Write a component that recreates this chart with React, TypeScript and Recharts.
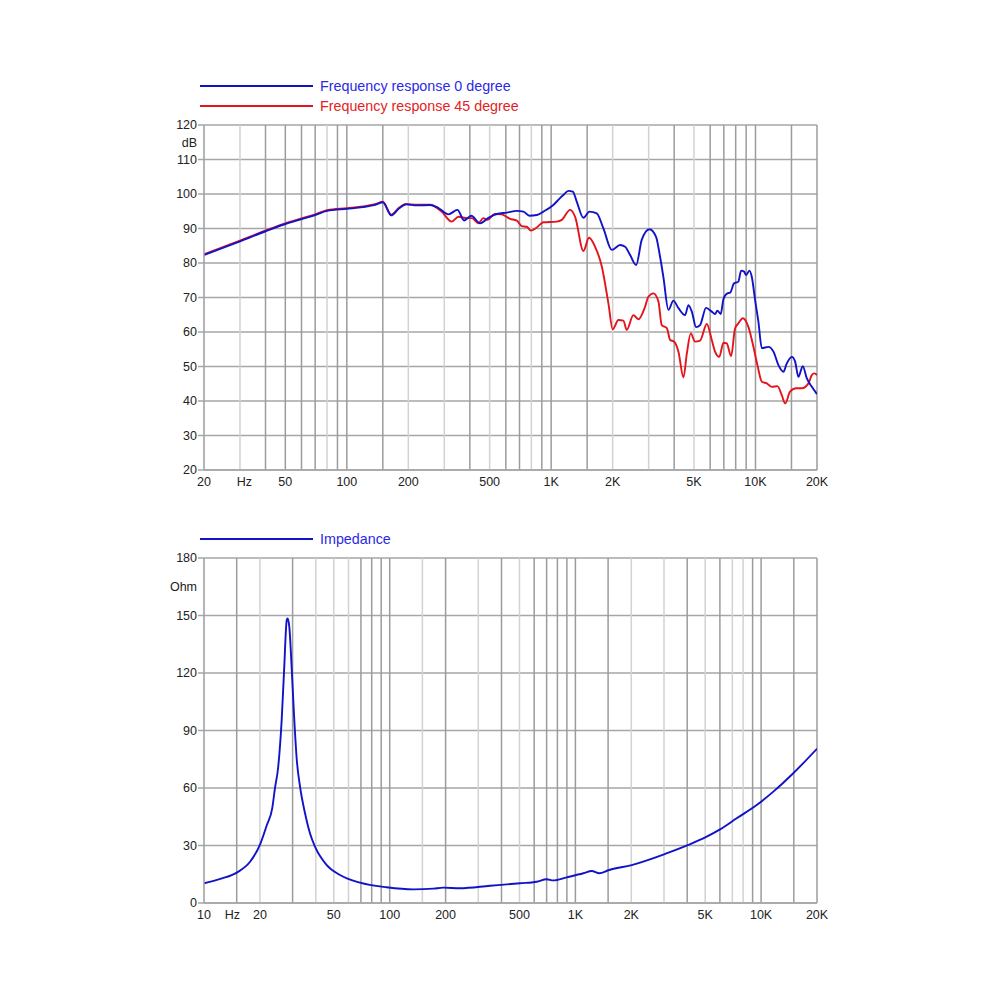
import { CartesianGrid, Line, LineChart, ReferenceLine, XAxis, YAxis } from "recharts"

// frequency response, 0 degree (Hz / dB)
const FREQ_0 = [
  20, 30, 40, 50, 60, 70, 80, 100, 120, 140, 150, 165, 180, 195, 220, 255, 280, 314, 348, 375, 406, 449,
  493, 542, 607, 679, 732, 782, 850, 916, 1025, 1105, 1148, 1214, 1276, 1334, 1438, 1539, 1672, 1800, 1981,
  2174, 2301, 2434, 2606, 2775, 3025, 3261, 3412, 3541, 3750, 3964, 4197, 4521, 4699, 4880, 5120, 5356,
  5730, 6110, 6340, 6506, 6760, 6966, 7282, 7515, 7855, 8245, 8505, 8796, 8996, 9336, 9590, 9955, 10333,
  10740, 11566, 12244, 12950, 13700, 14230, 15060, 15630, 16220, 17030, 17820, 18870, 20000,
]
const SPL_0 = [
  82.3, 86.3, 89.2, 91.3, 92.7, 93.9, 95.1, 95.7, 96.2, 97.0, 97.6, 93.8, 95.8, 97.0, 96.7, 96.8, 96.0,
  94.1, 95.4, 92.3, 93.7, 91.5, 93.1, 94.2, 94.6, 95.1, 94.9, 93.7, 93.9, 94.9, 96.8, 98.8, 99.7, 100.9,
  100.7, 97.8, 93.1, 94.9, 94.4, 90.1, 83.8, 85.2, 84.7, 82.3, 79.4, 86.7, 89.8, 87.6, 81.8, 76.0, 66.4,
  69.1, 66.9, 64.9, 67.8, 65.9, 61.4, 62.0, 67.0, 65.9, 65.2, 66.2, 65.2, 69.5, 71.2, 71.4, 74.1, 74.6,
  77.8, 77.5, 76.5, 77.8, 76.0, 69.3, 63.0, 55.3, 55.7, 54.3, 50.4, 48.5, 50.9, 52.8, 51.4, 47.0, 50.1,
  46.6, 44.1, 42.0,
]

// frequency response, 45 degree
const FREQ_45 = [
  20, 30, 40, 50, 60, 70, 80, 100, 120, 140, 150, 165, 180, 195, 220, 255, 291, 326, 352, 387, 409, 440,
  466, 487, 531, 573, 629, 679, 718, 760, 795, 850, 916, 1065, 1127, 1238, 1310, 1438, 1532, 1641, 1771,
  1906, 2001, 2133, 2256, 2344, 2525, 2672, 2880, 2991, 3165, 3350, 3477, 3682, 3822, 4000, 4197, 4440,
  4614, 4824, 5060, 5356, 5779, 6110, 6340, 6650, 6966, 7231, 7600, 7946, 8245, 8670, 9230, 9770, 10220,
  10740, 11360, 12020, 12800, 13450, 13970, 14760, 15810, 16870, 18160, 18870, 19370, 20000,
]
const SPL_45 = [
  82.5, 86.5, 89.4, 91.5, 92.9, 94.1, 95.3, 95.9, 96.4, 97.2, 97.8, 94.0, 96.0, 97.1, 96.9, 96.9, 94.9,
  92.0, 93.4, 93.0, 93.0, 91.5, 93.0, 92.5, 94.2, 94.1, 92.8, 92.3, 90.7, 90.5, 89.4, 90.3, 91.8, 92.0,
  92.5, 95.4, 93.4, 83.5, 87.3, 84.7, 78.9, 68.3, 60.8, 63.5, 63.3, 60.6, 64.9, 63.7, 67.3, 70.2, 71.2,
  68.8, 62.0, 61.1, 57.7, 57.2, 54.3, 46.8, 53.8, 59.6, 57.2, 57.5, 62.3, 57.7, 54.3, 52.8, 56.9, 56.7,
  53.0, 61.1, 62.5, 64.0, 61.5, 55.7, 50.4, 45.6, 45.1, 44.1, 44.3, 41.7, 39.3, 42.7, 43.7, 43.7, 45.1,
  47.5, 48.0, 47.5,
]

// impedance (Hz / Ohm)
const IMP_FREQ = [
  10, 12.5, 15.1, 17.7, 20, 21.8, 23.3, 24.1, 25.1, 26.2, 27, 27.9, 28.2, 28.8, 29.7, 30.5, 31.6, 32.9, 35,
  37.2, 39.6, 45.8, 54, 69.2, 96.3, 134, 172, 194.5, 239, 347, 503, 619, 700, 760, 897, 1104, 1224, 1346,
  1505, 2010, 3041, 4057, 5093, 6009, 7390, 9468, 11640, 14900, 20000,
]
const IMP_OHM = [
  10.3, 12.8, 16, 21.5, 30.3, 40.7, 49.4, 59.8, 71.1, 95.5, 121.5, 147.6, 148.5, 144.1, 121.5, 99, 74.6,
  60.7, 46.8, 36.4, 29.4, 19.8, 14.6, 10.6, 8.2, 7.1, 7.5, 8, 7.7, 9, 10.3, 11.1, 12.4, 11.8, 13.4, 15.5,
  16.7, 15.5, 17.1, 19.8, 25.6, 30.3, 34.6, 38.4, 44.2, 51.1, 58.1, 67.7, 80.5,
]

// axis ticks and grid
const SPL_TICKS = [20, 30, 40, 50, 60, 70, 80, 90, 100, 110, 120]
const OHM_TICKS = [0, 30, 60, 90, 120, 150, 180]
const HZ_TOP = 31.5
const HZ_BOTTOM = 14.2
const FR_X_TICKS = [20, HZ_TOP, 50, 100, 200, 500, 1000, 2000, 5000, 10000, 20000]
const IMP_X_TICKS = [10, HZ_BOTTOM, 20, 50, 100, 200, 500, 1000, 2000, 5000, 10000, 20000]
const FR_GRID_DARK = [40, 50, 60, 70, 90, 100, 150, 400, 600, 700, 900, 1000, 1500, 4000, 6000, 7000, 8000, 9000, 10000, 15000, 20000]
const FR_GRID_LIGHT = [30, 80, 200, 300, 500, 800, 2000, 3000, 5000]
const IMP_GRID_DARK = [15, 30, 70, 80, 90, 100, 200, 400, 600, 700, 800, 900, 1000, 1500, 4000, 6000, 9000, 10000, 15000, 20000]
const IMP_GRID_LIGHT = [20, 40, 50, 60, 150, 300, 500, 2000, 3000, 5000, 7000, 8000]

const FONT = "'Liberation Sans', Arial, Helvetica, sans-serif"
const BLUE = "#1212c8"
const BLUE_TEXT = "#2a2ae6"
const RED = "#e3141c"
const RED_TEXT = "#e52222"
const GRID_DARK = "#9c9c9c"
const GRID_LIGHT = "#d2d2d2"
const GRID_H = "#a6a6a6"
const TEXT = "#222222"

const zip = (xs: number[], ys: number[], key: string) => xs.map((f, i) => ({ f, [key]: ys[i] }))

const fr0 = zip(FREQ_0, SPL_0, "db")
const fr45 = zip(FREQ_45, SPL_45, "db")
const imp = zip(IMP_FREQ, IMP_OHM, "ohm")

const hzFormat = (hz: number) => (v: number) => (v === hz ? "Hz" : v >= 1000 ? `${v / 1000}K` : `${v}`)

const tickStyle = { fill: TEXT, fontSize: 12.5, fontFamily: FONT }

function Key({ top, color, textColor, label }: { top: number; color: string; textColor: string; label: string }) {
  return (
    <div style={{ position: "absolute", left: 200, top: top - 10, height: 20, display: "flex", alignItems: "center" }}>
      <div style={{ width: 113, height: 2, background: color }} />
      <span style={{ marginLeft: 7, color: textColor, fontSize: 14.3, fontFamily: FONT, whiteSpace: "nowrap" }}>{label}</span>
    </div>
  )
}

function gridLines(dark: number[], light: number[]) {
  return [
    ...light.map((f) => <ReferenceLine key={`l${f}`} x={f} stroke={GRID_LIGHT} strokeWidth={1.5} />),
    ...dark.map((f) => <ReferenceLine key={`d${f}`} x={f} stroke={GRID_DARK} strokeWidth={1.5} />),
  ]
}

export default function App() {
  return (
    <div style={{ position: "absolute", left: 0, top: 0, width: 1000, height: 1000, background: "#fff" }}>
      <Key top={86} color={BLUE} textColor={BLUE_TEXT} label="Frequency response 0 degree" />
      <Key top={106} color={RED} textColor={RED_TEXT} label="Frequency response 45 degree" />
      <div style={{ position: "absolute", left: 0, top: 0 }}>
        <LineChart width={1000} height={500} margin={{ top: 125, right: 183, bottom: 0, left: 164 }}>
          <CartesianGrid vertical={false} stroke={GRID_H} strokeWidth={1.5} />
          {gridLines(FR_GRID_DARK, FR_GRID_LIGHT)}
          <XAxis
            dataKey="f"
            type="number"
            scale="log"
            domain={[20, 20000]}
            allowDataOverflow
            ticks={FR_X_TICKS}
            tickFormatter={hzFormat(HZ_TOP)}
            interval={0}
            height={30}
            tickLine={false}
            tickSize={0}
            tickMargin={7}
            axisLine={{ stroke: GRID_H, strokeWidth: 1.5 }}
            tick={tickStyle}
          />
          <YAxis
            type="number"
            domain={[20, 120]}
            ticks={SPL_TICKS}
            interval={0}
            width={40}
            tickSize={6}
            tickMargin={1}
            tickLine={{ stroke: GRID_H, strokeWidth: 1.5 }}
            axisLine={{ stroke: GRID_DARK, strokeWidth: 1.5 }}
            tick={tickStyle}
          />
          <ReferenceLine y={115} stroke="none" label={{ value: "dB", position: "left", offset: 7, ...tickStyle }} />
          <Line data={fr45} dataKey="db" type="monotone" stroke={RED} strokeWidth={1.9} dot={false} isAnimationActive={false} />
          <Line data={fr0} dataKey="db" type="monotone" stroke={BLUE} strokeWidth={1.9} dot={false} isAnimationActive={false} />
        </LineChart>
      </div>

      <Key top={539} color={BLUE} textColor={BLUE_TEXT} label="Impedance" />
      <div style={{ position: "absolute", left: 0, top: 500 }}>
        <LineChart width={1000} height={450} margin={{ top: 58, right: 183, bottom: 17, left: 164 }}>
          <CartesianGrid vertical={false} stroke={GRID_H} strokeWidth={1.5} />
          {gridLines(IMP_GRID_DARK, IMP_GRID_LIGHT)}
          <XAxis
            dataKey="f"
            type="number"
            scale="log"
            domain={[10, 20000]}
            allowDataOverflow
            ticks={IMP_X_TICKS}
            tickFormatter={hzFormat(HZ_BOTTOM)}
            interval={0}
            height={30}
            tickLine={false}
            tickSize={0}
            tickMargin={7}
            axisLine={{ stroke: GRID_H, strokeWidth: 1.5 }}
            tick={tickStyle}
          />
          <YAxis
            type="number"
            domain={[0, 180]}
            ticks={OHM_TICKS}
            interval={0}
            width={40}
            tickSize={6}
            tickMargin={1}
            tickLine={{ stroke: GRID_H, strokeWidth: 1.5 }}
            axisLine={{ stroke: GRID_DARK, strokeWidth: 1.5 }}
            tick={tickStyle}
          />
          <ReferenceLine y={165} stroke="none" label={{ value: "Ohm", position: "left", offset: 7, ...tickStyle }} />
          <Line data={imp} dataKey="ohm" type="monotone" stroke={BLUE} strokeWidth={1.9} dot={false} isAnimationActive={false} />
        </LineChart>
      </div>
    </div>
  )
}
